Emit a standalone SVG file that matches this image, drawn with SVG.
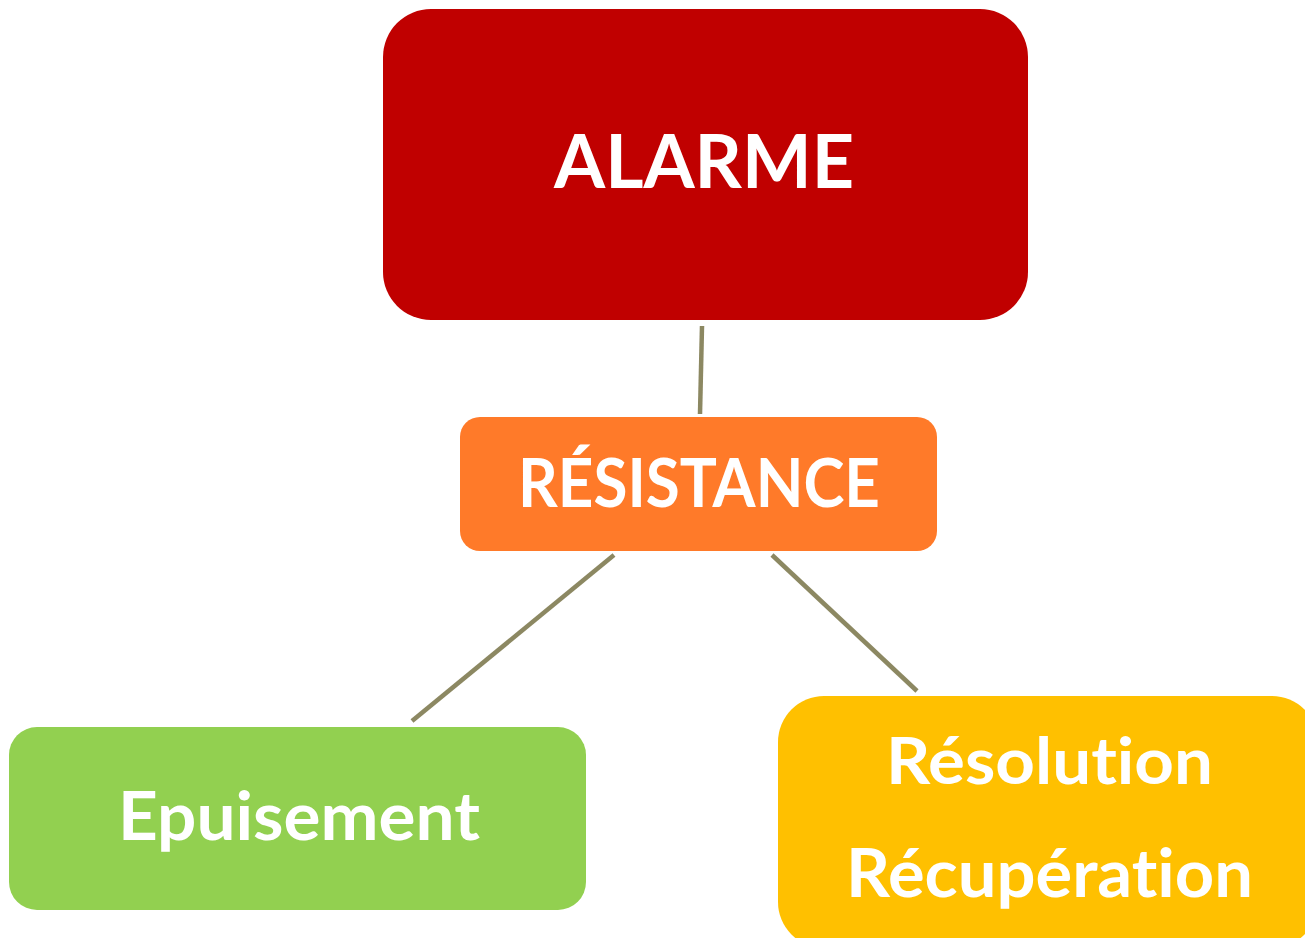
<svg xmlns="http://www.w3.org/2000/svg" width="1305" height="938" viewBox="0 0 1305 938">
<style>
.lbl{font-family:Lato,"Open Sans","Liberation Sans",sans-serif;font-weight:bold;fill:#FFFFFF;text-anchor:middle;font-variant-ligatures:none;font-feature-settings:"liga" 0,"clig" 0}
.con{stroke:#8C8862;stroke-width:4.5;fill:none}
</style>
<rect width="1305" height="938" fill="#FFFFFF"/>
<g id="connectors">
<line class="con" x1="702" y1="326" x2="700" y2="414"/>
<line class="con" x1="614" y1="555" x2="412" y2="721"/>
<line class="con" x1="772" y1="555" x2="917" y2="691"/>
</g>
<g id="alarme">
<rect x="383" y="9" width="645" height="311" rx="48" ry="48" fill="#C00000"/>
<text class="lbl" x="704" y="188" font-size="74" textLength="300" lengthAdjust="spacingAndGlyphs">ALARME</text>
</g>
<g id="resistance">
<rect x="460" y="417" width="477" height="134" rx="20" ry="20" fill="#FF7A29"/>
<text class="lbl" x="699" y="507" font-size="66" textLength="362" lengthAdjust="spacingAndGlyphs">RÉSISTANCE</text>
</g>
<g id="epuisement">
<rect x="9" y="727" width="577" height="183" rx="28" ry="28" fill="#92D050"/>
<text class="lbl" x="299" y="840" font-size="66" textLength="362" lengthAdjust="spacingAndGlyphs">Epuisement</text>
</g>
<g id="resolution">
<rect x="778" y="696" width="540" height="252" rx="46" ry="46" fill="#FFC000"/>
<text class="lbl" x="1049.5" y="784" font-size="65" textLength="327" lengthAdjust="spacingAndGlyphs">Résolution</text>
<text class="lbl" x="1049.5" y="897" font-size="66" textLength="407" lengthAdjust="spacingAndGlyphs">Récupération</text>
</g>
</svg>
